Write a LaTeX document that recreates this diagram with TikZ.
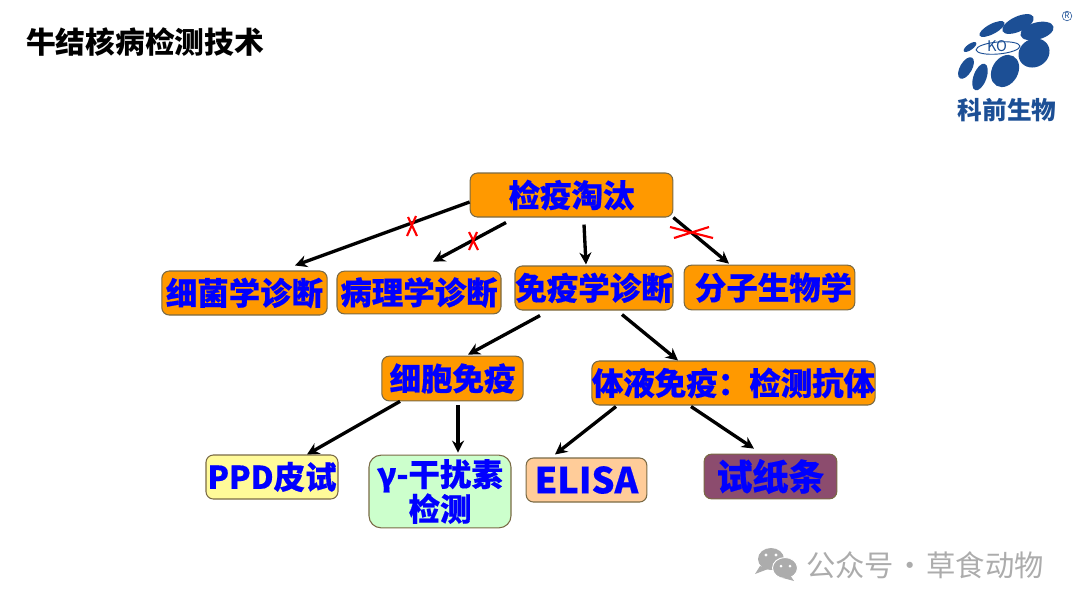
\documentclass[tikz,border=0pt]{standalone}
\usepackage{fontspec}
\setmainfont{Noto Sans CJK SC}
\newfontfamily\boxfont[BoldFeatures={FakeBold=0.5}]{Noto Sans CJK SC}
\usetikzlibrary{arrows.meta,calc}

\definecolor{boxedge}{HTML}{7A6A45}
\definecolor{boxorange}{HTML}{FF9900}
\definecolor{boxplum}{HTML}{8C4C6E}
\definecolor{logoblue}{HTML}{1C4F95}

\begin{document}
\begin{tikzpicture}[
    x=0.75pt, y=-0.75pt,
    box/.style={
        draw=boxedge,
        line width=0.8pt,
        rounded corners=5.5pt,
        fill=boxorange,
        text=blue,
        inner sep=0pt,
        align=center,
        font=\fontsize{23.6pt}{27pt}\selectfont\boxfont\bfseries
    },
    link/.style={draw=black, line width=2.5pt, -{Stealth[length=9pt,width=9pt]}},
    cross/.style={draw=red, line width=1.6pt},
    blob/.style={fill=logoblue}
    ]
    \useasboundingbox (0,0) rectangle (1080,608);

    \node (title) [anchor=west, font=\fontsize{22.3pt}{26pt}\selectfont\bfseries] at (21.5,42) {牛结核病检测技术};

    \node (Root) [box, minimum width=152pt, minimum height=33pt] at (571.5,195) {检疫淘汰};
    \node (Bact) [box, minimum width=124pt, minimum height=33pt] at (244.5,293) {细菌学诊断};
    \node (Path) [box, minimum width=123pt, minimum height=32pt] at (419,292.5) {病理学诊断};
    \node (Immu) [box, minimum width=118.5pt, minimum height=33pt] at (594,288) {免疫学诊断};
    \node (Mole) [box, minimum width=128pt, minimum height=33.5pt] at (769.5,287.5) {\hspace{6pt}分子生物学};
    \node (Cell) [box, minimum width=106pt, minimum height=33.5pt] at (452.5,378.5) {细胞免疫};
    \node (Humo) [box, minimum width=212pt, minimum height=33pt] at (733.5,383) {体液免疫：检测抗体};
    \node (Ppd) [box, fill=yellow!40, minimum width=99pt, minimum height=33pt] at (272,477) {PPD皮试};
    \node (Gamma) [box, fill=green!20, minimum width=106.5pt, minimum height=54.5pt, rounded corners=9pt] at (440,491.5) {γ-干扰素\\[-1pt]检测};
    \node (Elisa) [box, fill=orange!40, minimum width=90.5pt, minimum height=33pt, font=\fontsize{27pt}{30pt}\selectfont\boxfont\bfseries] at (586.5,480) {ELISA};
    \node (Strip) [box, fill=boxplum, minimum width=99.5pt, minimum height=33.5pt, font=\fontsize{27pt}{30pt}\selectfont\boxfont\bfseries] at (770.5,476.5) {试纸条};

    \draw[link] ($(Root.west)+(0,7)$) -- ($(Bact.north)+(50.5,-5)$);
    \draw[link] ($(Root.south)+(-65.5,5)$) -- ($(Path.north)+(14,-9)$);
    \draw[link] ($(Root.south)+(12.5,7)$) -- ($(Immu.north)+(-8,-1)$);
    \draw[link] (Root.south east) -- ($(Mole.north)+(-40.5,-1)$);
    \draw[link] ($(Immu.south)+(-54,5)$) -- ($(Cell.north)+(15.5,-1)$);
    \draw[link] ($(Immu.south)+(28,4)$) -- ($(Humo.north)+(-55.5,0)$);
    \draw[link] ($(Cell.south)+(-52.5,0)$) -- ($(Ppd.north)+(35,0)$);
    \draw[link] ($(Cell.south)+(5.5,4)$) -- ($(Gamma.north)+(18,-2)$);
    \draw[link] ($(Humo.south)+(-117.5,1)$) -- ($(Elisa.north)+(-31.5,-3)$);
    \draw[link] ($(Humo.south)+(-42.5,1)$) -- ($(Strip.north)+(-16.5,-5)$);

    % red crosses
    \draw[cross] (408,217) -- (417,236) (416,216) -- (407,236);
    \draw[cross] (469,232) -- (478,250) (477,232) -- (469,250);
    \draw[cross] (670,227) -- (713,238) (674,238) -- (709,227);

    % logo
    \fill[blob] (992,29) ellipse [x radius=14, y radius=5, rotate=28];
    \fill[blob] (1018,24) ellipse [x radius=17, y radius=7.5, rotate=25];
    \fill[blob] (1037,31) ellipse [x radius=17, y radius=8.5, rotate=15];
    \fill[blob] (1034,53) ellipse [x radius=16, y radius=14, rotate=30];
    \fill[blob] (1005,71) ellipse [x radius=17, y radius=13, rotate=60];
    \fill[blob] (980,77) ellipse [x radius=14, y radius=6.5, rotate=70];
    \fill[blob] (966,68) ellipse [x radius=12, y radius=6, rotate=60];
    \fill[blob] (970,47) ellipse [x radius=7.5, y radius=3, rotate=35];
    \draw[logoblue, line width=0.7pt] (998,48) ellipse [x radius=22, y radius=6, rotate=5];
    \node (ko) [text=logoblue, inner sep=0pt, font=\fontsize{11pt}{12pt}\selectfont] at (997,46) {KO};
    \node (logotext) [text=logoblue, inner sep=0pt, font=\fontsize{18.5pt}{20pt}\selectfont\bfseries] at (1007,110) {科前生物};
    \node (regmark) [circle, draw=logoblue, line width=0.4pt, text=logoblue, inner sep=0.5pt, font=\fontsize{6pt}{7pt}\selectfont] at (1067,16) {R};

    % watermark
    \fill[gray!65] (771,559) ellipse [x radius=13, y radius=11];
    \fill[gray!65] (760,566) -- (755,574) -- (768,569) -- cycle;
    \fill[gray!65, draw=white, line width=0.7pt] (785,568) ellipse [x radius=12.5, y radius=10.5];
    \fill[gray!65] (790,575) -- (794,581) -- (783,578) -- cycle;
    \fill[white] (766,555) circle (1.7) (776,555) circle (1.7) (781,566) circle (1.5) (790,566) circle (1.5);
    \node (mark) [anchor=west, text=gray!65, inner sep=0pt, font=\fontsize{22pt}{24pt}\selectfont] at (806,565) {公众号\hspace{0.05em}·\hspace{0.05em}草食动物};
\end{tikzpicture}
\end{document}
